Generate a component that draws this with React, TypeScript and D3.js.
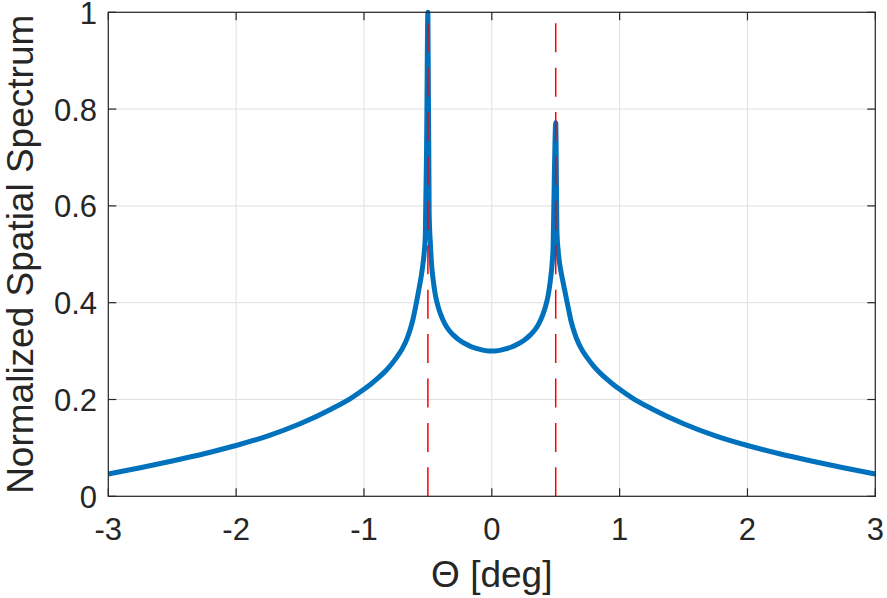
import React, { useEffect, useRef } from "react";
import * as d3 from "d3";

// angle grid (deg) and normalized spectrum
const theta = [
  -3, -2.75, -2.5, -2.25, -2, -1.75, -1.5, -1.25, -1.1, -1, -0.95, -0.9,
  -0.85, -0.8, -0.75, -0.7, -0.66, -0.62, -0.59, -0.57, -0.55, -0.54, -0.53,
  -0.52, -0.51, -0.5, -0.49, -0.48, -0.47, -0.46, -0.45, -0.44, -0.42, -0.4,
  -0.37, -0.34, -0.3, -0.25, -0.2, -0.15, -0.1, -0.05, 0, 0.05, 0.1, 0.15,
  0.2, 0.25, 0.3, 0.34, 0.37, 0.4, 0.42, 0.44, 0.45, 0.46, 0.47, 0.48, 0.49,
  0.5, 0.51, 0.52, 0.53, 0.54, 0.55, 0.57, 0.59, 0.62, 0.66, 0.7, 0.75, 0.8,
  0.85, 0.9, 0.95, 1, 1.1, 1.25, 1.5, 1.75, 2, 2.25, 2.5, 2.75, 3,
];
const spectrum = [
  0.046, 0.059, 0.073, 0.088, 0.105, 0.125, 0.15, 0.181, 0.203, 0.221, 0.231,
  0.242, 0.254, 0.268, 0.285, 0.305, 0.328, 0.362, 0.4, 0.428, 0.458, 0.477,
  0.5, 0.54, 0.726, 1.0, 0.585, 0.52, 0.475, 0.45, 0.43, 0.414, 0.392, 0.376,
  0.358, 0.345, 0.333, 0.322, 0.314, 0.308, 0.304, 0.301, 0.3, 0.301, 0.304,
  0.308, 0.314, 0.322, 0.333, 0.345, 0.358, 0.376, 0.392, 0.414, 0.43, 0.45,
  0.475, 0.52, 0.674, 0.772, 0.544, 0.505, 0.482, 0.466, 0.452, 0.426, 0.4,
  0.362, 0.328, 0.305, 0.285, 0.268, 0.254, 0.242, 0.231, 0.221, 0.203,
  0.181, 0.15, 0.125, 0.105, 0.088, 0.073, 0.059, 0.046,
];
// true source directions (dashed markers)
const sources = [-0.5, 0.5];

const xTicks = [-3, -2, -1, 0, 1, 2, 3];
const yTicks = [0, 0.2, 0.4, 0.6, 0.8, 1];

export default function App() {
  const ref = useRef<SVGSVGElement>(null);

  useEffect(() => {
    const width = 887;
    const height = 598;
    const m = { top: 12.3, right: 11.7, bottom: 101.7, left: 108.3 };
    const axisColor = "#262626";
    const font = "'Liberation Sans', Arial, Helvetica, sans-serif";

    const svg = d3.select(ref.current!);
    svg.selectAll("*").remove();

    const x = d3.scaleLinear().domain([-3, 3]).range([m.left, width - m.right]);
    const y = d3.scaleLinear().domain([0, 1]).range([height - m.bottom, m.top]);

    // grid
    const grid = svg.append("g").attr("stroke", "#dfdfdf").attr("stroke-width", 1);
    grid
      .selectAll("line.gx")
      .data(xTicks)
      .join("line")
      .attr("x1", (d) => x(d))
      .attr("x2", (d) => x(d))
      .attr("y1", y(0))
      .attr("y2", y(1));
    grid
      .selectAll("line.gy")
      .data(yTicks)
      .join("line")
      .attr("class", "gy")
      .attr("x1", x(-3))
      .attr("x2", x(3))
      .attr("y1", (d) => y(d))
      .attr("y2", (d) => y(d));

    // spectrum
    const pts = theta.map((t, i) => [t, spectrum[i]] as [number, number]);
    svg
      .append("path")
      .datum(pts)
      .attr("fill", "none")
      .attr("stroke", "#0072BD")
      .attr("stroke-width", 5)
      .attr("stroke-linejoin", "round")
      .attr(
        "d",
        d3
          .line()
          .curve(d3.curveMonotoneX)
          .x((d) => x(d[0]))
          .y((d) => y(d[1]))
      );

    // source markers
    svg
      .append("g")
      .selectAll("line")
      .data(sources)
      .join("line")
      .attr("x1", (d) => x(d))
      .attr("x2", (d) => x(d))
      .attr("y1", y(0))
      .attr("y2", y(1))
      .attr("stroke", "#ff0000")
      .attr("stroke-width", 1.5)
      .attr("stroke-dasharray", "29 15.4");

    // axes box with inward ticks on all sides
    const tickLen = 8;
    const ax = svg.append("g").attr("stroke", axisColor).attr("stroke-width", 1.2);
    ax.append("rect")
      .attr("x", x(-3))
      .attr("y", y(1))
      .attr("width", x(3) - x(-3))
      .attr("height", y(0) - y(1))
      .attr("fill", "none");
    xTicks.forEach((t) => {
      ax.append("line").attr("x1", x(t)).attr("x2", x(t)).attr("y1", y(0)).attr("y2", y(0) - tickLen);
      ax.append("line").attr("x1", x(t)).attr("x2", x(t)).attr("y1", y(1)).attr("y2", y(1) + tickLen);
    });
    yTicks.forEach((t) => {
      ax.append("line").attr("x1", x(-3)).attr("x2", x(-3) + tickLen).attr("y1", y(t)).attr("y2", y(t));
      ax.append("line").attr("x1", x(3)).attr("x2", x(3) - tickLen).attr("y1", y(t)).attr("y2", y(t));
    });

    // tick labels
    svg
      .append("g")
      .selectAll("text")
      .data(xTicks)
      .join("text")
      .attr("x", (d) => x(d))
      .attr("y", 540)
      .attr("text-anchor", "middle")
      .attr("font-family", font)
      .attr("font-size", 31)
      .attr("fill", axisColor)
      .text((d) => String(d));
    svg
      .append("g")
      .selectAll("text")
      .data(yTicks)
      .join("text")
      .attr("x", 97)
      .attr("y", (d) => y(d) + 11.5)
      .attr("text-anchor", "end")
      .attr("font-family", font)
      .attr("font-size", 31)
      .attr("fill", axisColor)
      .text((d) => String(d));

    // axis labels
    svg
      .append("text")
      .attr("x", (x(-3) + x(3)) / 2)
      .attr("y", 587)
      .attr("text-anchor", "middle")
      .attr("font-family", font)
      .attr("font-size", 37)
      .attr("fill", axisColor)
      .text("Θ [deg]");
    svg
      .append("text")
      .attr("transform", `translate(33,${(y(0) + y(1)) / 2}) rotate(-90)`)
      .attr("text-anchor", "middle")
      .attr("font-family", font)
      .attr("font-size", 37)
      .attr("fill", axisColor)
      .text("Normalized Spatial Spectrum");
  }, []);

  return (
    <svg
      ref={ref}
      width={887}
      height={598}
      style={{ position: "absolute", left: 0, top: 0, background: "#fff" }}
    />
  );
}
